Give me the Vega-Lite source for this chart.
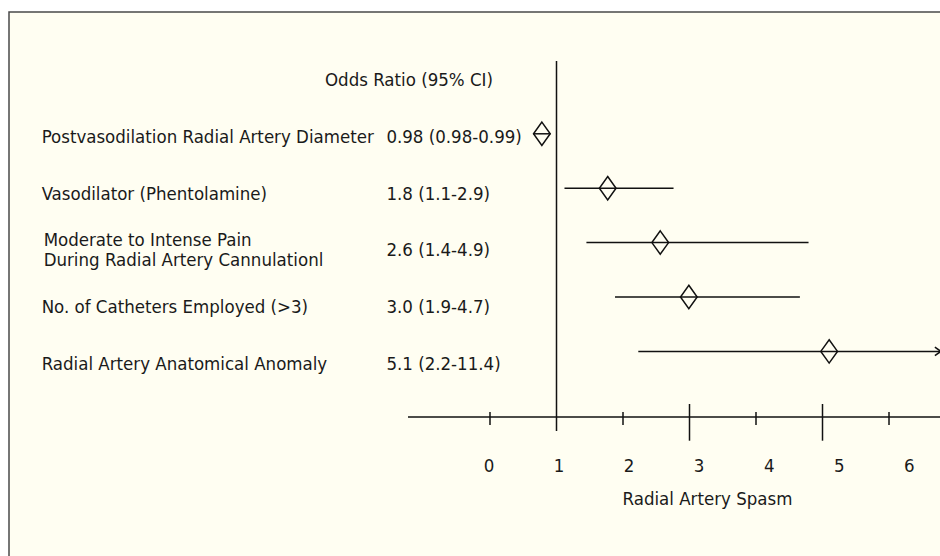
{
  "$schema": "https://vega.github.io/schema/vega-lite/v6.json",
  "width": 935,
  "height": 548,
  "autosize": "none",
  "padding": {"left": 9, "top": 12, "right": 0, "bottom": 0},
  "background": "white",
  "config": {
    "view": {"fill": "#fffef2", "stroke": "#4a4a4a", "strokeWidth": 1.5},
    "text": {"font": "DejaVu Sans Condensed, Liberation Sans", "fontSize": 18.5, "color": "#1a1a1a"}
  },
  "resolve": {"scale": {"x": "independent", "y": "independent"}},
  "datasets": {
    "rows": [
      {"row": 1, "name": "Postvasodilation Radial Artery Diameter", "or_text": "0.98 (0.98-0.99)", "est": 0.78, "lo": 0.65, "hi": 0.91},
      {"row": 2, "name": "Vasodilator (Phentolamine)", "or_text": "1.8 (1.1-2.9)", "est": 1.77, "lo": 1.12, "hi": 2.76},
      {"row": 3, "name": "Moderate to Intense Pain\nDuring Radial Artery Cannulationl", "or_text": "2.6 (1.4-4.9)", "est": 2.56, "lo": 1.45, "hi": 4.79},
      {"row": 4, "name": "No. of Catheters Employed (>3)", "or_text": "3.0 (1.9-4.7)", "est": 2.99, "lo": 1.88, "hi": 4.66},
      {"row": 5, "name": "Radial Artery Anatomical Anomaly", "or_text": "5.1 (2.2-11.4)", "est": 5.1, "lo": 2.23, "hi": 11.4}
    ],
    "one": [{}]
  },
  "layer": [
    {
      "data": {"name": "one"},
      "mark": {"type": "rule", "color": "#111", "strokeWidth": 1.5},
      "encoding": {
        "x": {"datum": 1, "type": "quantitative", "scale": {"domain": [-7.233, 6.827], "nice": false, "zero": false}, "axis": null},
        "y": {"datum": -0.338, "type": "quantitative", "scale": {"domain": [-1.239, 8.835], "reverse": true, "nice": false, "zero": false}, "axis": null},
        "y2": {"datum": 6.463}
      }
    },
    {
      "data": {"name": "one"},
      "mark": {"type": "rule", "color": "#111", "strokeWidth": 1.5},
      "encoding": {
        "x": {"datum": -1.233, "type": "quantitative", "scale": {"domain": [-7.233, 6.827], "nice": false, "zero": false}, "axis": null},
        "x2": {"datum": 6.827},
        "y": {"datum": 6.206, "type": "quantitative", "scale": {"domain": [-1.239, 8.835], "reverse": true, "nice": false, "zero": false}, "axis": null}
      }
    },
    {
      "data": {"values": [{"t": 0}, {"t": 2}, {"t": 4}, {"t": 6}]},
      "mark": {"type": "rule", "color": "#111", "strokeWidth": 1.5},
      "encoding": {
        "x": {"field": "t", "type": "quantitative", "scale": {"domain": [-7.233, 6.827], "nice": false, "zero": false}, "axis": null},
        "y": {"datum": 6.114, "type": "quantitative", "scale": {"domain": [-1.239, 8.835], "reverse": true, "nice": false, "zero": false}, "axis": null},
        "y2": {"datum": 6.353}
      }
    },
    {
      "data": {"values": [{"t": 3}, {"t": 5}]},
      "mark": {"type": "rule", "color": "#111", "strokeWidth": 1.5},
      "encoding": {
        "x": {"field": "t", "type": "quantitative", "scale": {"domain": [-7.233, 6.827], "nice": false, "zero": false}, "axis": null},
        "y": {"datum": 5.967, "type": "quantitative", "scale": {"domain": [-1.239, 8.835], "reverse": true, "nice": false, "zero": false}, "axis": null},
        "y2": {"datum": 6.642}
      }
    },
    {
      "data": {"values": [{"t": 0}, {"t": 1}, {"t": 2}, {"t": 3}, {"t": 4}, {"t": 5}, {"t": 6}]},
      "mark": {"type": "text", "align": "center", "baseline": "middle"},
      "encoding": {
        "x": {"field": "t", "type": "quantitative", "scale": {"domain": [-6.852, 6.495], "nice": false, "zero": false}, "axis": null},
        "y": {"datum": 7.112, "type": "quantitative", "scale": {"domain": [-1.239, 8.835], "reverse": true, "nice": false, "zero": false}, "axis": null},
        "text": {"field": "t", "type": "quantitative"}
      }
    },
    {
      "data": {"name": "rows"},
      "mark": {"type": "rule", "color": "#111", "strokeWidth": 1.5, "clip": true},
      "encoding": {
        "x": {"field": "lo", "type": "quantitative", "scale": {"domain": [-7.233, 6.827], "nice": false, "zero": false}, "axis": null},
        "x2": {"field": "hi"},
        "y": {"field": "row", "type": "quantitative", "scale": {"domain": [-1.239, 8.835], "reverse": true, "nice": false, "zero": false}, "axis": null}
      }
    },
    {
      "data": {"name": "rows"},
      "mark": {"type": "point", "shape": "M0,-1.4L1,0L0,1.4L-1,0Z", "size": 279, "filled": false, "stroke": "#111", "strokeWidth": 1.5, "opacity": 1},
      "encoding": {
        "x": {"field": "est", "type": "quantitative", "scale": {"domain": [-7.233, 6.827], "nice": false, "zero": false}, "axis": null},
        "y": {"field": "row", "type": "quantitative", "scale": {"domain": [-1.239, 8.835], "reverse": true, "nice": false, "zero": false}, "axis": null}
      }
    },
    {
      "data": {"name": "rows"},
      "transform": [{"filter": "datum.hi > 6.8"}],
      "mark": {"type": "point", "shape": "M-1,-0.7L0,0L-1,0.7", "size": 144, "filled": false, "stroke": "#111", "strokeWidth": 1.5, "opacity": 1},
      "encoding": {
        "x": {"datum": 6.78, "type": "quantitative", "scale": {"domain": [-7.233, 6.827], "nice": false, "zero": false}, "axis": null},
        "y": {"field": "row", "type": "quantitative", "scale": {"domain": [-1.239, 8.835], "reverse": true, "nice": false, "zero": false}, "axis": null}
      }
    },
    {
      "data": {"name": "rows"},
      "transform": [{"filter": "indexof(datum.name, '\\n') < 0"}],
      "mark": {"type": "text", "align": "left", "baseline": "middle"},
      "encoding": {
        "x": {"datum": -6.742, "type": "quantitative", "scale": {"domain": [-7.233, 6.827], "nice": false, "zero": false}, "axis": null},
        "y": {"field": "row", "type": "quantitative", "scale": {"domain": [-1.197, 8.451], "reverse": true, "nice": false, "zero": false}, "axis": null},
        "text": {"field": "name"}
      }
    },
    {
      "data": {"name": "rows"},
      "transform": [{"filter": "indexof(datum.name, '\\n') >= 0"}],
      "mark": {"type": "text", "align": "left", "baseline": "middle", "lineBreak": "\n", "lineHeight": 20, "dx": 2, "dy": -10},
      "encoding": {
        "x": {"datum": -6.742, "type": "quantitative", "scale": {"domain": [-7.233, 6.827], "nice": false, "zero": false}, "axis": null},
        "y": {"field": "row", "type": "quantitative", "scale": {"domain": [-1.197, 8.451], "reverse": true, "nice": false, "zero": false}, "axis": null},
        "text": {"field": "name"}
      }
    },
    {
      "data": {"name": "rows"},
      "mark": {"type": "text", "align": "left", "baseline": "middle"},
      "encoding": {
        "x": {"datum": -1.558, "type": "quantitative", "scale": {"domain": [-7.233, 6.827], "nice": false, "zero": false}, "axis": null},
        "y": {"field": "row", "type": "quantitative", "scale": {"domain": [-1.197, 8.451], "reverse": true, "nice": false, "zero": false}, "axis": null},
        "text": {"field": "or_text"}
      }
    },
    {
      "data": {"values": [{"label": "Odds Ratio (95% CI)"}]},
      "mark": {"type": "text", "align": "left", "baseline": "middle"},
      "encoding": {
        "x": {"datum": -2.481, "type": "quantitative", "scale": {"domain": [-7.233, 6.827], "nice": false, "zero": false}, "axis": null},
        "y": {"datum": 0, "type": "quantitative", "scale": {"domain": [-1.197, 8.451], "reverse": true, "nice": false, "zero": false}, "axis": null},
        "text": {"field": "label"}
      }
    },
    {
      "data": {"values": [{"label": "Radial Artery Spasm"}]},
      "mark": {"type": "text", "align": "center", "baseline": "middle"},
      "encoding": {
        "x": {"datum": 3.27, "type": "quantitative", "scale": {"domain": [-7.233, 6.827], "nice": false, "zero": false}, "axis": null},
        "y": {"datum": 7.713, "type": "quantitative", "scale": {"domain": [-1.239, 8.835], "reverse": true, "nice": false, "zero": false}, "axis": null},
        "text": {"field": "label"}
      }
    }
  ]
}
